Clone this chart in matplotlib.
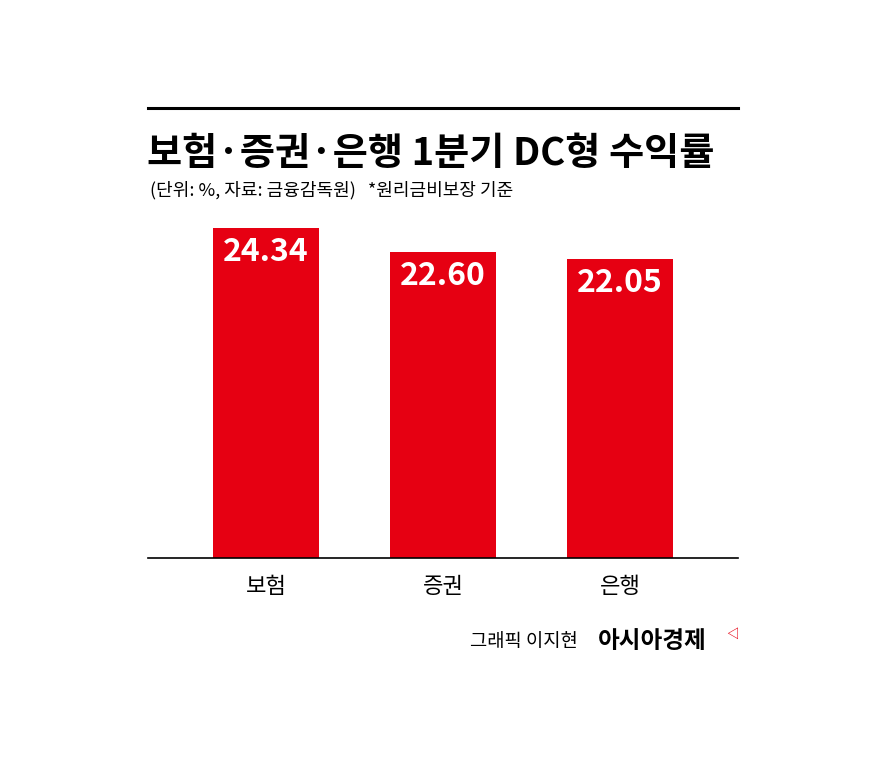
import matplotlib.pyplot as plt
from matplotlib.lines import Line2D

plt.rcParams['font.family'] = ['Noto Sans CJK KR', 'DejaVu Sans']

categories = ['보험', '증권', '은행']
values = [24.34, 22.60, 22.05]
red = '#e60012'

W, H = 887, 768
fig = plt.figure(figsize=(W / 100, H / 100), dpi=100)

def fx(px):
    return px / W

def fy(py):
    return 1 - py / H

# axes in pixel coords: left 148, right 738, baseline 558, top for ylim 26
top_px = 558 - 26 * 13.56
ax = fig.add_axes([fx(148), fy(558), fx(738 - 148), (558 - top_px) / H])
x = range(len(categories))
ax.bar(x, values, width=0.6, color=red)
ax.set_xlim(-0.667, 2.667)
ax.set_ylim(0, 26)
ax.set_yticks([])
ax.set_xticks(list(x))
ax.set_xticklabels(categories, fontsize=16)
ax.tick_params(axis='x', length=0, pad=12)
for s in ['top', 'right', 'left']:
    ax.spines[s].set_visible(False)
ax.spines['bottom'].set_linewidth(1.2)
for i, v in enumerate(values):
    ax.text(i, v - 0.6, f'{v:.2f}', ha='center', va='top', color='white',
            fontsize=23, fontweight='bold')

fig.add_artist(Line2D([fx(148), fx(738)], [fy(108), fy(108)], color='black', lw=2.2))
fig.text(fx(147), fy(153), '보험·증권·은행 1분기 DC형 수익률', fontsize=27.5,
         fontweight='bold', va='center', ha='left')
fig.text(fx(150), fy(190), '(단위: %, 자료: 금융감독원)   *원리금비보장 기준', fontsize=13,
         va='center', ha='left')
fig.text(fx(470), fy(641), '그래픽 이지현', fontsize=13.5, va='center', ha='left')
fig.text(fx(598), fy(641), '아시아경제', fontsize=17, fontweight='bold', va='center', ha='left')
fig.text(fx(726), fy(634), '◁', fontsize=9, color=red, va='center', ha='left',
         fontweight='bold')

fig.savefig('out.png', dpi=100)
